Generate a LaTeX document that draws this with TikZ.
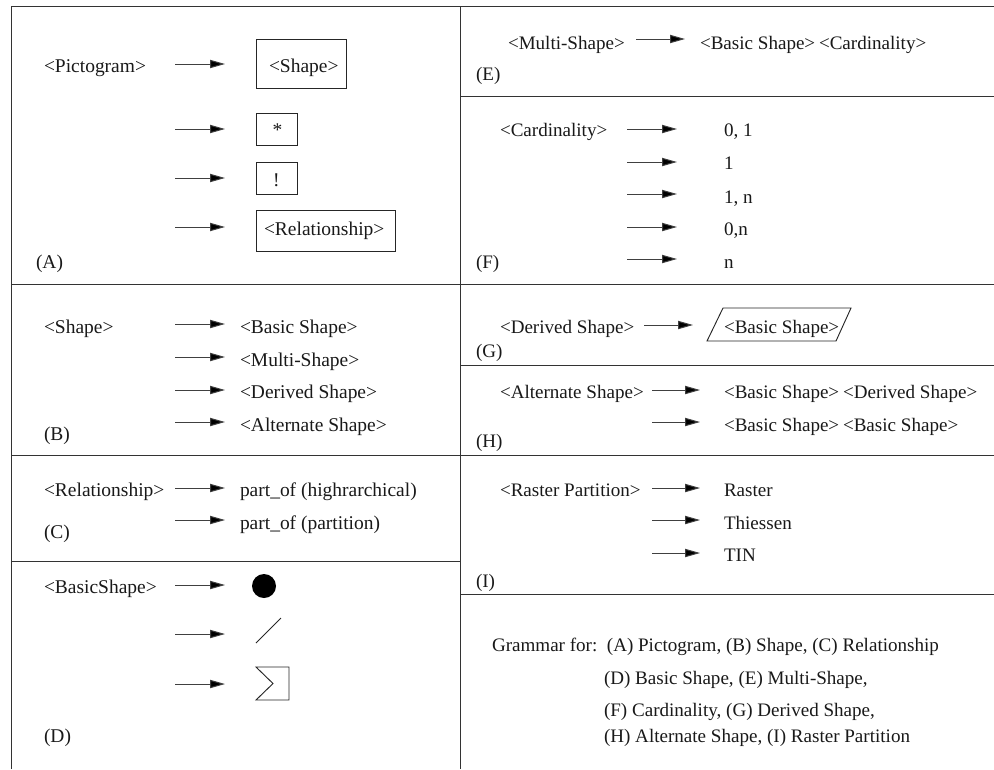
\documentclass[tikz,border=0pt]{standalone}
\usepackage{fontspec}
\setmainfont{Liberation Serif}
\usetikzlibrary{arrows.meta}
\tikzset{
  x=0.75pt,y=-0.75pt,
  txt/.style={anchor=base west,inner sep=0pt,outer sep=0pt,font=\fontsize{14.6pt}{17pt}\selectfont,text=black!90},
  txr/.style={txt,font=\fontsize{14.3pt}{17pt}\selectfont},
  rule/.style={draw=black!80,line width=0.65pt},
  boxed/.style={draw=black!85,line width=0.7pt,fill=none},
  link/.style={draw=black!75,line width=0.75pt,-{Stealth[length=11.25pt,width=6.2pt,inset=0pt,fill=black]}},
}
\newcommand{\lnk}[4]{\coordinate (#1s) at (#2,#4); \coordinate (#1e) at (#3,#4); \draw[link] (#1s) -- (#1e);}
\begin{document}
\begin{tikzpicture}
\useasboundingbox (0,0) rectangle (994,769);
% frame
\coordinate (tl) at (11.5,6.5); \coordinate (tr) at (994,6.5); \coordinate (bl) at (11.5,769);
\coordinate (tm) at (460,6.5); \coordinate (bm) at (460,769);
\draw[rule] (bl) -- (tl) -- (tr);
\draw[rule] (tm) -- (bm);
\foreach \n/\y in {l1/284,l2/455,l3/561}{\coordinate (\n a) at (11.5,\y); \coordinate (\n b) at (460,\y); \draw[rule] (\n a) -- (\n b);}
\foreach \n/\y in {r1/96,r2/284,r3/365,r4/455,r5/594}{\coordinate (\n a) at (460,\y); \coordinate (\n b) at (994,\y); \draw[rule] (\n a) -- (\n b);}
% A
\node[txt] (pict) at (44,72) {<Pictogram>};
\node[boxed,minimum width=67.5pt,minimum height=36.75pt,inner sep=0pt] (bshape) at (301,63.5) {};
\node[txt] (tshape) at (269,72) {<Shape>};
\node[boxed,minimum width=30.75pt,minimum height=24pt,inner sep=0pt] (bstar) at (276.5,129) {};
\node[txt] (tstar) at (272.5,136) {*};
\node[boxed,minimum width=30.75pt,minimum height=24pt,inner sep=0pt] (bbang) at (276.5,178) {};
\node[txt] (tbang) at (273,186) {!};
\node[boxed,minimum width=104.25pt,minimum height=30.75pt,inner sep=0pt] (brel) at (325.5,230.5) {};
\node[txt] (trel) at (264,235) {<Relationship>};
\lnk{a1}{175}{225}{64}\lnk{a2}{175}{225}{129}\lnk{a3}{175}{225}{178}\lnk{a4}{175}{225}{227}
\node[txt] (la) at (36,268) {(A)};
% B
\node[txt] (bs) at (44,333) {<Shape>};
\node[txt] (b1) at (240,333) {<Basic Shape>};
\node[txt] (b2) at (240,366) {<Multi-Shape>};
\node[txt] (b3) at (240,398) {<Derived Shape>};
\node[txt] (b4) at (240,431) {<Alternate Shape>};
\lnk{b1a}{175}{225}{324}\lnk{b2a}{175}{225}{357}\lnk{b3a}{175}{225}{390}\lnk{b4a}{175}{225}{422}
\node[txt] (lb) at (44,440) {(B)};
% C
\node[txt] (c0) at (44,496) {<Relationship>};
\node[txt] (c1) at (240,496) {part\_of (highrarchical)};
\node[txt] (c2) at (240,529) {part\_of (partition)};
\lnk{c1a}{175}{225}{488}\lnk{c2a}{175}{225}{520}
\node[txt] (lc) at (44,538) {(C)};
% D
\node[txt] (d0) at (44,593) {<BasicShape>};
\lnk{d1a}{175}{225}{585}\lnk{d2a}{175}{225}{634}\lnk{d3a}{175}{225}{684}
\node[circle,fill=black,draw=none,minimum size=18pt,inner sep=0pt] (circ) at (264,586) {};
\coordinate (s1) at (256,643); \coordinate (s2) at (281,618);
\draw[boxed] (s1) -- (s2);
\coordinate (p1) at (256,667); \coordinate (p2) at (289,667); \coordinate (p3) at (289,700); \coordinate (p4) at (256,700); \coordinate (p5) at (273,683.5);
\draw[boxed] (p1) -- (p2) -- (p3) -- (p4) -- (p5) -- cycle;
\node[txt] (ld) at (44,742) {(D)};
% E
\node[txr] (e0) at (508,49) {<Multi-Shape>};
\lnk{e1a}{636}{685}{39}
\node[txr] (e1) at (700,49) {<Basic Shape>};
\node[txr] (e2) at (819,49) {<Cardinality>};
\node[txr] (le) at (476,80) {(E)};
% F
\node[txr] (f0) at (500,136) {<Cardinality>};
\lnk{f1a}{627}{677}{129}\lnk{f2a}{627}{677}{162}\lnk{f3a}{627}{677}{194}\lnk{f4a}{627}{677}{227}\lnk{f5a}{627}{677}{259}
\node[txr] (f1) at (724,136) {0, 1};
\node[txr] (f2) at (724,169) {1};
\node[txr] (f3) at (724,203) {1, n};
\node[txr] (f4) at (724,235) {0,n};
\node[txr] (f5) at (724,268) {n};
\node[txr] (lf) at (476,268) {(F)};
% G
\node[txr] (g0) at (500,333) {<Derived Shape>};
\lnk{g1a}{644}{693}{325}
\coordinate (q1) at (707,341); \coordinate (q2) at (723,308); \coordinate (q3) at (851,308); \coordinate (q4) at (836,341);
\draw[boxed] (q1) -- (q2) -- (q3) -- (q4) -- cycle;
\node[txr] (g1) at (724,333) {<Basic Shape>};
\node[txr] (lg) at (476,357) {(G)};
% H
\node[txr] (h0) at (500,398) {<Alternate Shape>};
\lnk{h1a}{652}{700}{390}\lnk{h2a}{652}{700}{422}
\node[txr] (h1) at (724,398) {<Basic Shape>};
\node[txr] (h2) at (843,398) {<Derived Shape>};
\node[txr] (h3) at (724,431) {<Basic Shape>};
\node[txr] (h4) at (843,431) {<Basic Shape>};
\node[txr] (lh) at (476,447) {(H)};
% I
\node[txr] (i0) at (500,496) {<Raster Partition>};
\lnk{i1a}{652}{700}{488}\lnk{i2a}{652}{700}{520}\lnk{i3a}{652}{700}{553}
\node[txr] (i1) at (724,496) {Raster};
\node[txr] (i2) at (724,529) {Thiessen};
\node[txr] (i3) at (724,561) {TIN};
\node[txr] (li) at (476,587) {(I)};
% caption
\node[txr] (k1) at (492,651) {Grammar for:\ \ (A) Pictogram, (B) Shape, (C) Relationship};
\node[txr] (k2) at (604,684) {(D) Basic Shape, (E) Multi-Shape,};
\node[txr] (k3) at (604,716) {(F) Cardinality, (G) Derived Shape,};
\node[txr] (k4) at (604,742) {(H) Alternate Shape, (I) Raster Partition};
\end{tikzpicture}
\end{document}
